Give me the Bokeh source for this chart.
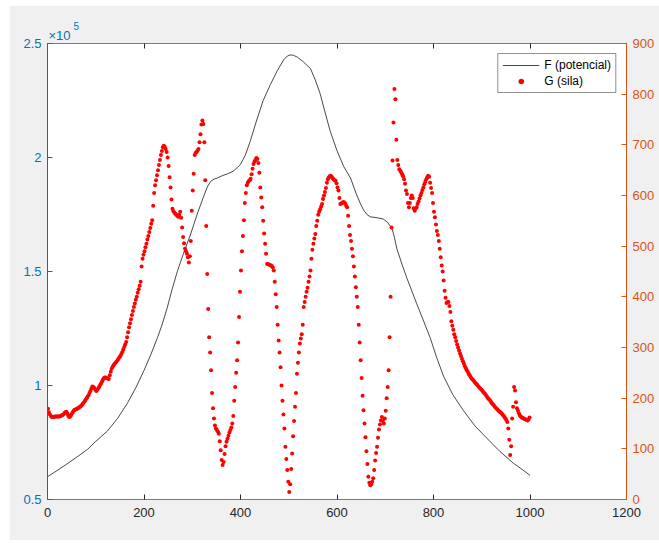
import numpy as np
from bokeh.plotting import figure
from bokeh.models import Range1d, LinearAxis, FixedTicker, Legend, LegendItem, Title
from bokeh.embed import file_html
from bokeh.resources import INLINE

# ---- data ----
# F (potencial) (units of 1e5)
f_x = [0, 20, 41, 60, 83, 100, 124, 145, 165, 183, 200, 214, 228, 238, 248, 258, 269,
       282, 296, 310, 322, 331, 338, 345, 352, 362, 375, 385, 393, 400, 410, 420, 433,
       447, 462, 476, 490, 497, 503, 510, 518, 530, 545, 555, 565, 575, 586, 600, 614,
       628, 640, 648, 655, 662, 669, 685, 696, 705, 710, 714, 719, 724, 735, 745, 765,
       780, 793, 807, 821, 840, 862, 885, 910, 938, 965, 985, 1000]
f_y = [0.60, 0.627, 0.657, 0.685, 0.72, 0.755, 0.80, 0.855, 0.92, 0.99, 1.066, 1.135, 1.21, 1.27, 1.34, 1.42, 1.50,
       1.58, 1.66, 1.75, 1.82, 1.87, 1.895, 1.905, 1.91, 1.92, 1.93, 1.94, 1.955, 1.97, 2.01, 2.07, 2.16,
       2.25, 2.32, 2.38, 2.43, 2.445, 2.45, 2.448, 2.44, 2.42, 2.39, 2.34, 2.28, 2.20, 2.115, 2.03, 1.96,
       1.91, 1.84, 1.80, 1.77, 1.75, 1.74, 1.735, 1.73, 1.715, 1.70, 1.69, 1.65, 1.60, 1.53, 1.47, 1.36,
       1.28, 1.21, 1.12, 1.04, 0.96, 0.89, 0.825, 0.77, 0.71, 0.66, 0.63, 0.606]

# G (sila), right axis, sampled at x = 1, 3, 5, ...
g_vals = [
    179, 172, 168, 165, 163, 163, 163, 164, 164, 164,
    164, 164, 164, 165, 166, 167, 168, 170, 172, 173,
    170, 166, 163, 164, 167, 170, 173, 176, 177, 178,
    179, 180, 181, 183, 184, 186, 189, 191, 194, 197,
    200, 203, 206, 210, 214, 219, 223, 222, 220, 217,
    214, 216, 219, 222, 226, 229, 233, 237, 240, 241,
    241, 240, 239, 238, 245, 252, 258, 262, 265, 268,
    270, 272, 275, 278, 281, 283, 287, 291, 296, 301,
    306, 311, 320, 330, 340, 348, 356, 364, 372, 380,
    387, 394, 400, 408, 415, 422, 430, 460, 475, 483,
    490, 498, 505, 513, 520, 528, 536, 544, 551, 580,
    605, 620, 630, 640, 650, 660, 670, 680, 688, 695,
    698, 696, 692, 686, 675, 658, 636, 616, 592, 574,
    569, 566, 564, 562, 560, 558, 562, 568, 556, 537,
    518, 506, 495, 490, 485, 478, 468, 480, 510, 570,
    610, 643, 680, 684, 686, 689, 692, 705, 721, 740,
    748, 741, 705, 630, 540, 445, 376, 320, 290, 255,
    210, 180, 160, 146, 140, 137, 134, 130, 115, 97,
    78, 68, 74, 90, 105, 114, 120, 126, 132, 137,
    142, 150, 165, 195, 222, 250, 275, 310, 360, 410,
    452, 490, 520, 551, 585, 605, 620, 625, 628, 630,
    633, 642, 653, 662, 667, 670, 674, 672, 664, 645,
    616, 596, 577, 550, 525, 505, 485, 465, 465, 464,
    463, 462, 461, 458, 452, 430, 405, 380, 345, 314,
    290, 261, 225, 195, 168, 140, 104, 80, 58, 35,
    15, 30, 60, 91, 125, 155, 183, 210, 248, 270,
    290, 308, 318, 326, 345, 380, 390, 400, 410, 418,
    430, 440, 452, 475, 493, 505, 515, 524, 540, 550,
    562, 568, 573, 578, 583, 593, 600, 607, 615, 625,
    632, 636, 638, 639, 637, 634, 632, 630, 629, 624,
    616, 610, 595, 583, 584, 585, 587, 586, 584, 580,
    577, 560, 540, 522, 510, 495, 480, 460, 440, 419,
    400, 380, 345, 310, 275, 240, 205, 176, 150, 123,
    95, 70, 45, 33, 28, 30, 35, 42, 58, 77,
    92, 104, 122, 138, 148, 156, 163, 155, 150, 160,
    175, 200, 222, 255, 320, 400, 537, 669, 744, 810,
    790, 710, 670, 660, 652, 649, 646, 642, 638, 632,
    623, 610, 603, 585, 577, 585, 595, 600, 595, 575,
    570, 574, 577, 583, 588, 594, 600, 605, 611, 616,
    622, 627, 632, 636, 639, 637, 625, 615, 605, 585,
    568, 557, 543, 530, 522, 510, 495, 478, 462, 450,
    432, 412, 398, 388, 390, 390, 382, 370, 352, 343,
    335, 326, 320, 313, 306, 300, 294, 288, 283, 278,
    273, 268, 263, 259, 255, 252, 248, 245, 242, 239,
    237, 235, 232, 230, 228, 226, 223, 221, 219, 217,
    215, 212, 210, 208, 206, 203, 200, 198, 196, 193,
    190, 188, 186, 183, 181, 179, 177, 175, 173, 172,
    170, 168, 166, 163, 160, 157, 153, 140, 118, 88,
    105, 160, 183, 222, 215, 192, 180, 175, 170, 166,
    164, 162, 161, 160, 159, 158, 157, 156, 158, 162,
]
g_x = list(range(1, 2 * len(g_vals), 2))

x_ticks = [0, 200, 400, 600, 800, 1000, 1200]
left_ticks = [50000, 100000, 150000, 200000, 250000]
left_labels = ["0.5", "1", "1.5", "2", "2.5"]
right_ticks = [0, 100, 200, 300, 400, 500, 600, 700, 800, 900]

BLUE = "#0072BD"
ORANGE = "#D95319"
AX = "#262626"
FONT = "Liberation Sans"

p = figure(width=650, height=535, output_backend="svg", toolbar_location=None,
           x_range=Range1d(0, 1200), y_range=Range1d(50000, 250000),
           x_axis_location=None, y_axis_location=None)
p.margin = (5, 0, 3, 9)
p.extra_y_ranges = {"right": Range1d(0, 900)}
p.background_fill_color = "white"
p.border_fill_color = "#f0f0f0"
p.outline_line_color = None
p.min_border_left = 38
p.min_border_right = 33
p.min_border_top = 38
p.min_border_bottom = 41
p.grid.visible = False


def style(ax, color, standoff):
    ax.axis_line_color = color
    ax.axis_line_width = 1
    ax.major_tick_line_color = color
    ax.major_tick_in = 5
    ax.major_tick_out = 0
    ax.minor_tick_line_color = None
    ax.major_label_text_color = color
    ax.major_label_text_font = FONT
    ax.major_label_text_font_size = "13px"
    ax.major_label_standoff = standoff


bottom = LinearAxis(ticker=FixedTicker(ticks=x_ticks))
style(bottom, AX, 8)
bottom.axis_line_alpha = 0.6
p.add_layout(bottom, "below")

top = LinearAxis(ticker=FixedTicker(ticks=x_ticks),
                 major_label_overrides={t: "" for t in x_ticks})
style(top, AX, 0)
top.axis_line_alpha = 0.6
p.add_layout(top, "above")

# exponent marker of the left axis: "×10" with a raised "5"
p.add_layout(Title(text="×10", align="left", offset=1, standoff=2,
                   text_color=BLUE, text_font=FONT, text_font_size="13px",
                   text_font_style="normal"), "above")
p.title.text = "5"
p.title.align = "left"
p.title.offset = 26
p.title.standoff = -10
p.title.text_color = BLUE
p.title.text_font = FONT
p.title.text_font_size = "10px"
p.title.text_font_style = "normal"

left = LinearAxis(ticker=FixedTicker(ticks=left_ticks),
                  major_label_overrides={t: s for t, s in zip(left_ticks, left_labels)})
style(left, BLUE, 6)
p.add_layout(left, "left")

right = LinearAxis(y_range_name="right", ticker=FixedTicker(ticks=right_ticks))
style(right, ORANGE, 6)
p.add_layout(right, "right")

f_r = p.line(f_x, [v * 1e5 for v in f_y], line_color="#1a1a1a", line_width=0.8)
g_r = p.scatter(g_x, g_vals, y_range_name="right", size=4, fill_color="#ff0000",
                line_color=None)

legend = Legend(items=[LegendItem(label="F (potencial)", renderers=[f_r]),
                       LegendItem(label="G (sila)", renderers=[g_r])],
                location="top_right")
legend.border_line_color = AX
legend.border_line_width = 0.8
legend.background_fill_color = "white"
legend.background_fill_alpha = 1
legend.label_text_font = FONT
legend.label_text_font_size = "12px"
legend.label_text_color = "black"
legend.glyph_width = 37
legend.glyph_height = 14
legend.label_height = 14
legend.spacing = 2
legend.padding = 4
legend.margin = 10
legend.label_standoff = 5
p.add_layout(legend)

open("out.html", "w").write(file_html(p, INLINE))
